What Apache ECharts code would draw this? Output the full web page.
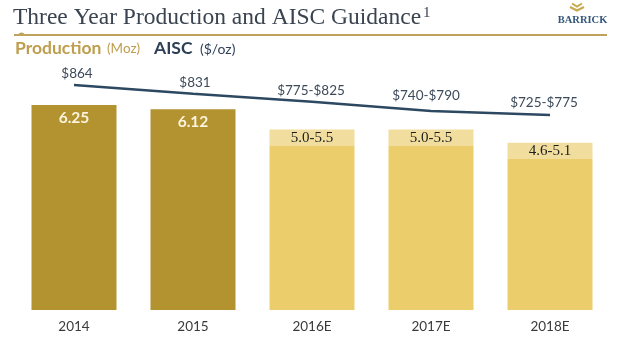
<!DOCTYPE html>
<html><head><meta charset="utf-8">
<script src="https://cdn.jsdelivr.net/npm/echarts@6/dist/echarts.min.js"></script>
<style>html,body{margin:0;padding:0;background:#fff}#c{width:623px;height:342px}</style>
</head><body><div id="c"></div>
<script>
const categories = ['2014', '2015', '2016E', '2017E', '2018E'];
const productionLow = [6.25, 6.12, 5.0, 5.0, 4.6];
const productionRange = [0, 0, 0.5, 0.5, 0.5];
const productionLabels = ['6.25', '6.12', '5.0-5.5', '5.0-5.5', '4.6-5.1'];
const isEstimate = [false, false, true, true, true];
const aiscValues = [864, 831, 800, 765, 750];
const aiscLabels = ['$864', '$831', '$775-$825', '$740-$790', '$725-$775'];

const DARK = '#B39230', LIGHT = '#EBCE6B', LIGHTER = '#F1DE9E';
const NAVY = '#2D4861', TEXT = '#3C4A5A';
const SANS = 'Lato, "Open Sans", sans-serif';
const SERIF = '"Liberation Serif", "DejaVu Serif", serif';
const lblOffsets = [[3, 0], [2, 0], [-1, 0], [-5, -4], [-6, -1]];

const chart = echarts.init(document.getElementById('c'), null, {renderer: 'canvas'});
chart.setOption({
  animation: false,
  backgroundColor: '#fff',
  grid: [
    {left: 14.5, right: 13.5, top: 80.4, bottom: 32},
    {left: 14.5, right: 13.5, top: 75.5, height: 52.6}
  ],
  xAxis: [
    {type: 'category', gridIndex: 0, data: categories,
     axisLine: {show: false}, axisTick: {show: false},
     axisLabel: {color: '#3A3A3A', fontFamily: SANS, fontSize: 13.5, margin: 10}},
    {type: 'category', gridIndex: 1, data: categories, show: false}
  ],
  yAxis: [
    {type: 'value', gridIndex: 0, min: 0, max: 7, show: false, splitLine: {show: false}},
    {type: 'value', gridIndex: 1, min: 700, max: 900, show: false, splitLine: {show: false}}
  ],
  series: [
    {type: 'bar', stack: 'p', barWidth: 85, xAxisIndex: 0, yAxisIndex: 0,
     data: productionLow.map((v, i) => ({
       value: v,
       itemStyle: {color: isEstimate[i] ? LIGHT : DARK},
       label: {show: !isEstimate[i]}
     })),
     label: {position: 'insideTop', distance: 5, color: '#FDF4DC', fontWeight: 'bold',
       fontFamily: SANS, fontSize: 15.5, formatter: p => productionLabels[p.dataIndex]}},
    {type: 'bar', stack: 'p', barWidth: 85, xAxisIndex: 0, yAxisIndex: 0,
     data: productionRange.map((v, i) => isEstimate[i] ? v : '-'),
     itemStyle: {color: LIGHTER},
     label: {show: true, position: 'inside', color: '#1E1E1E', fontFamily: SERIF, fontSize: 15,
       formatter: p => productionLabels[p.dataIndex]}},
    {type: 'line', xAxisIndex: 1, yAxisIndex: 1, data: aiscValues.map((v, i) => ({
        value: v, label: {offset: lblOffsets[i]}})),
     symbol: 'circle', symbolSize: 0.01, showSymbol: true,
     lineStyle: {color: NAVY, width: 2.5}, itemStyle: {color: NAVY},
     label: {show: true, position: 'top', distance: 4, color: TEXT, fontFamily: SANS, fontSize: 13.5,
       formatter: p => aiscLabels[p.dataIndex]}}
  ],
  graphic: [
    {type: 'text', left: 13, top: 6, style: {
      text: '{t|Three Year Production and AISC Guidance}{s|1}',
      rich: {
        t: {fontFamily: SERIF, fontSize: 23.5, fill: '#3A4350'},
        s: {fontFamily: SERIF, fontSize: 15, fill: '#3A4350', verticalAlign: 'top', padding: [0, 0, 9, 2]}
      }}},
    {type: 'line', shape: {x1: 14, y1: 35, x2: 607, y2: 35}, style: {stroke: '#BFA35A', lineWidth: 2}},
    {type: 'polygon', shape: {points: [[18, 35], [19.5, 33], [21.5, 32.5], [23.5, 33], [25, 35]]}, style: {fill: '#BFA35A'}},
    {type: 'text', x: 15, y: 48, style: {text: 'Production', fontFamily: SANS, fontSize: 17.5, fontWeight: 'bold',
      fill: '#BE9E4E', verticalAlign: 'middle'}},
    {type: 'text', x: 107, y: 49, style: {text: '(Moz)', fontFamily: SANS, fontSize: 13.5,
      fill: '#BE9E4E', verticalAlign: 'middle'}},
    {type: 'text', x: 154, y: 48, style: {text: 'AISC', fontFamily: SANS, fontSize: 17.5, fontWeight: 'bold',
      fill: '#2D4057', verticalAlign: 'middle'}},
    {type: 'text', x: 200, y: 49, style: {text: '($/oz)', fontFamily: SANS, fontSize: 14,
      fill: '#2D4057', verticalAlign: 'middle'}},
    {type: 'text', x: 582.5, y: 20.5, style: {text: 'BARRICK', fontFamily: SERIF, fontWeight: 'bold',
      fontSize: 10.5, fill: '#34577A', align: 'center', verticalAlign: 'middle'}},
    {type: 'polyline', shape: {points: [[572, 3.5], [577, 6.5], [582, 3.5]]}, style: {stroke: '#C9A94F', lineWidth: 2, fill: null}},
    {type: 'polyline', shape: {points: [[570, 7], [577, 10.5], [584, 7]]}, style: {stroke: '#C9A94F', lineWidth: 2.2, fill: null}}
  ]
});
</script></body></html>
